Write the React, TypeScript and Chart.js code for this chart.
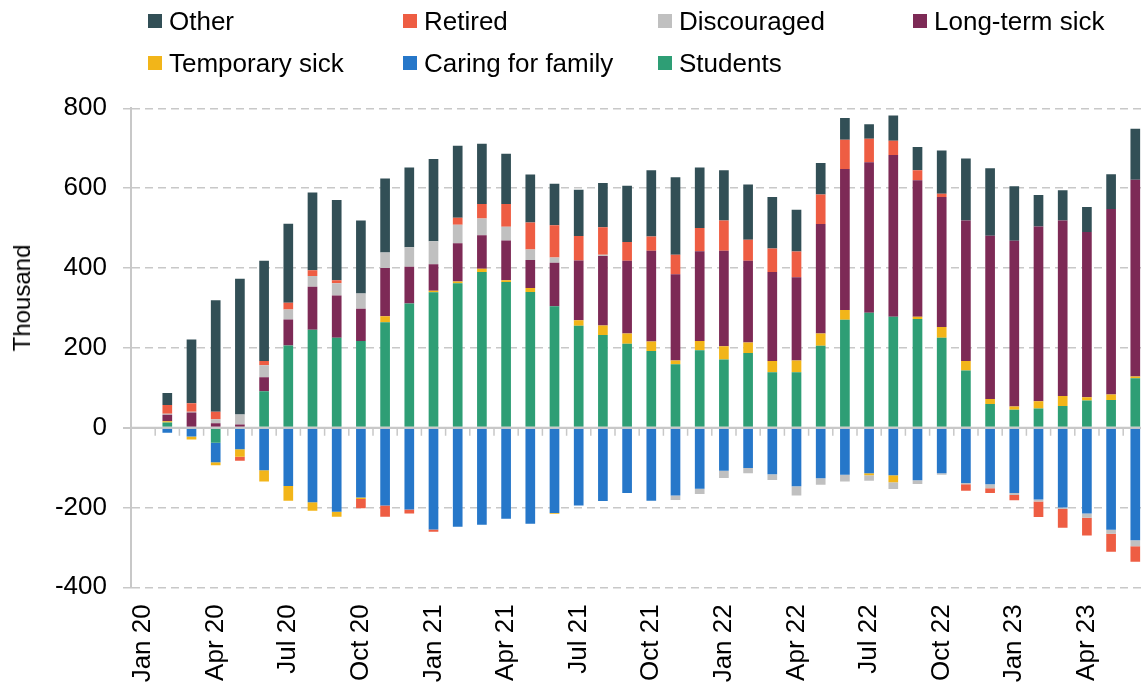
import React, { useEffect, useRef } from 'react';
import { Chart, registerables } from 'chart.js';

Chart.register(...registerables);

const categories = [
  'Jan 20', 'Feb 20', 'Mar 20', 'Apr 20', 'May 20', 'Jun 20', 'Jul 20', 'Aug 20', 'Sep 20', 'Oct 20', 'Nov 20', 'Dec 20',
  'Jan 21', 'Feb 21', 'Mar 21', 'Apr 21', 'May 21', 'Jun 21', 'Jul 21', 'Aug 21', 'Sep 21', 'Oct 21', 'Nov 21', 'Dec 21',
  'Jan 22', 'Feb 22', 'Mar 22', 'Apr 22', 'May 22', 'Jun 22', 'Jul 22', 'Aug 22', 'Sep 22', 'Oct 22', 'Nov 22', 'Dec 22',
  'Jan 23', 'Feb 23', 'Mar 23', 'Apr 23', 'May 23', 'Jun 23',
];

// thousand
const students = [
  0, 13, 0, -38, 0, 91, 206, 245, 225, 217, 264, 311,
  339, 362, 390, 365, 340, 304, 255, 232, 210, 192, 159, 194,
  171, 187, 139, 139, 205, 270, 288, 278, 272, 225, 143, 59,
  45, 48, 54, 68, 69, 124,
];
const caringForFamily = [
  0, -13, -22, -49, -54, -107, -146, -187, -211, -175, -195, -205,
  -255, -248, -243, -228, -241, -214, -195, -184, -164, -183, -170, -153,
  -108, -101, -117, -147, -127, -118, -114, -119, -132, -114, -139, -142,
  -164, -180, -200, -215, -256, -282,
];
const temporarySick = [
  0, 3, -8, -7, -19, -28, -37, -21, -12, -4, 15, 0,
  4, 4, 8, 4, 10, -2, 14, 24, 26, 24, 9, 23,
  33, 26, 28, 29, 31, 25, -5, -18, 6, 27, 24, 13,
  8, 18, 25, 8, 14, 4,
];
const longTermSick = [
  0, 16, 38, 11, 8, 35, 65, 108, 106, 81, 121, 92,
  66, 96, 84, 100, 70, 109, 150, 174, 182, 227, 216, 225,
  239, 205, 223, 209, 274, 353, 377, 405, 342, 326, 352, 409,
  415, 438, 440, 414, 465, 493,
];
const discouraged = [
  0, 3, 2, 10, 25, 30, 25, 27, 31, 38, 39, 49,
  58, 46, 42, 34, 26, 13, 0, 3, 0, 0, -11, -13,
  -18, -13, -14, -23, -16, -17, -14, -17, -9, -4, -3, -10,
  -5, -5, -4, -11, -10, -15,
];
const retired = [
  0, 22, 21, 19, -10, 11, 17, 14, 7, -23, -28, -10,
  -6, 18, 36, 57, 68, 81, 61, 69, 47, 36, 49, 58,
  76, 53, 59, 64, 74, 73, 59, 36, 25, 8, -16, -12,
  -13, -39, -47, -44, -45, -39,
];
const other = [
  0, 30, 160, 279, 340, 251, 198, 195, 201, 183, 185, 200,
  206, 180, 151, 126, 120, 104, 116, 111, 141, 166, 194, 152,
  126, 138, 129, 105, 79, 55, 36, 63, 58, 108, 155, 169,
  137, 79, 76, 63, 87, 128,
];

const Y_MIN = -400;
const Y_MAX = 800;
const Y_STEP = 200;

const FONT = "'Liberation Sans', Arial, Helvetica, sans-serif";
const GRID = '#c8c8c8';

const series = [
  { label: 'Students', data: students, color: '#2e9e75' },
  { label: 'Caring for family', data: caringForFamily, color: '#2677c9' },
  { label: 'Temporary sick', data: temporarySick, color: '#f2b519' },
  { label: 'Long-term sick', data: longTermSick, color: '#7d2a56' },
  { label: 'Discouraged', data: discouraged, color: '#c0c0c0' },
  { label: 'Retired', data: retired, color: '#ee5d43' },
  { label: 'Other', data: other, color: '#324f56' },
];

const zeroAxisPlugin = {
  id: 'zeroAxis',
  afterDatasetsDraw(chart: any) {
    const { ctx, chartArea, scales } = chart;
    const x = scales.x;
    const y = scales.y;
    const y0 = y.getPixelForValue(0);
    ctx.save();
    ctx.strokeStyle = GRID;
    ctx.lineWidth = 2;
    ctx.beginPath();
    ctx.moveTo(chartArea.left, y0);
    ctx.lineTo(chartArea.right, y0);
    ctx.stroke();
    ctx.lineWidth = 1.5;
    ctx.beginPath();
    const n = categories.length;
    for (let i = 0; i < n - 1; i++) {
      const xb = (x.getPixelForValue(i) + x.getPixelForValue(i + 1)) / 2;
      ctx.moveTo(xb, y0);
      ctx.lineTo(xb, y0 + 8);
    }
    ctx.stroke();
    ctx.restore();
  },
};

function ChartView() {
  const canvasRef = useRef<HTMLCanvasElement | null>(null);

  useEffect(() => {
    const canvas = canvasRef.current;
    if (!canvas) return;
    const chart = new Chart(canvas, {
      type: 'bar',
      data: {
        labels: categories,
        datasets: series.map((s) => ({
          label: s.label,
          data: s.data,
          backgroundColor: s.color,
          borderWidth: 0,
          barPercentage: 0.4,
          categoryPercentage: 1,
          stack: 'all',
        })),
      },
      options: {
        responsive: false,
        animation: false,
        devicePixelRatio: 1,
        layout: { padding: { top: 108.3, right: 12.6, bottom: 0, left: 0 } },
        plugins: {
          legend: { display: false },
          tooltip: { enabled: false },
          title: { display: false },
        },
        scales: {
          x: {
            stacked: true,
            offset: true,
            grid: { display: false, drawTicks: false, offset: true },
            border: { display: false },
            ticks: {
              autoSkip: false,
              minRotation: 90,
              maxRotation: 90,
              padding: 17,
              color: '#000',
              font: { family: FONT, size: 26 },
              callback: (_v: any, i: number) => (i % 3 === 0 ? categories[i] : ''),
            },
            afterFit: (s: any) => {
              s.height = 98.7;
              s.paddingLeft = 0;
              s.paddingRight = 0;
            },
          },
          y: {
            stacked: true,
            min: Y_MIN,
            max: Y_MAX,
            grid: {
              color: GRID,
              lineWidth: (c: any) => (c.tick && c.tick.value === 0 ? 2 : 1.5),
              tickLength: 8,
              tickColor: GRID,
            },
            border: {
              display: true,
              color: GRID,
              width: 2,
              dash: (c: any) => (c.tick && c.tick.value !== 0 ? [8, 5] : []),
            },
            ticks: {
              stepSize: Y_STEP,
              padding: 16,
              color: '#000',
              font: { family: FONT, size: 26 },
            },
            afterFit: (s: any) => {
              s.width = 131;
              s.paddingTop = 0;
              s.paddingBottom = 0;
            },
          },
        },
      },
      plugins: [zeroAxisPlugin],
    } as any);
    return () => chart.destroy();
  }, []);

  return <canvas ref={canvasRef} width={1160} height={686} style={{ display: 'block', width: 1160, height: 686 }} />;
}

function Legend() {
  const items = [...series].reverse();
  return (
    <>
      {items.map((s, i) => {
        const col = i % 4;
        const row = Math.floor(i / 4);
        return (
          <div
            key={s.label}
            style={{
              position: 'absolute',
              left: 148 + col * 255,
              top: (row === 0 ? 21 : 63) - 16,
              height: 32,
              display: 'flex',
              alignItems: 'center',
              whiteSpace: 'nowrap',
              font: `26px ${FONT}`,
              color: '#000',
            }}
          >
            <span style={{ display: 'inline-block', width: 14, height: 14, background: s.color, marginRight: 7 }} />
            <span>{s.label}</span>
          </div>
        );
      })}
    </>
  );
}

export default function App() {
  return (
    <div style={{ position: 'absolute', left: 0, top: 0, width: 1141, height: 686, overflow: 'hidden', background: '#fff' }}>
      <div style={{ position: 'relative', width: 1160, height: 686 }}>
        <ChartView />
        <Legend />
        <div
          style={{
            position: 'absolute',
            left: 22,
            top: 298,
            transform: 'translate(-50%, -50%) rotate(-90deg)',
            whiteSpace: 'nowrap',
            font: `24px ${FONT}`,
            color: '#000',
          }}
        >
          Thousand
        </div>
      </div>
    </div>
  );
}
